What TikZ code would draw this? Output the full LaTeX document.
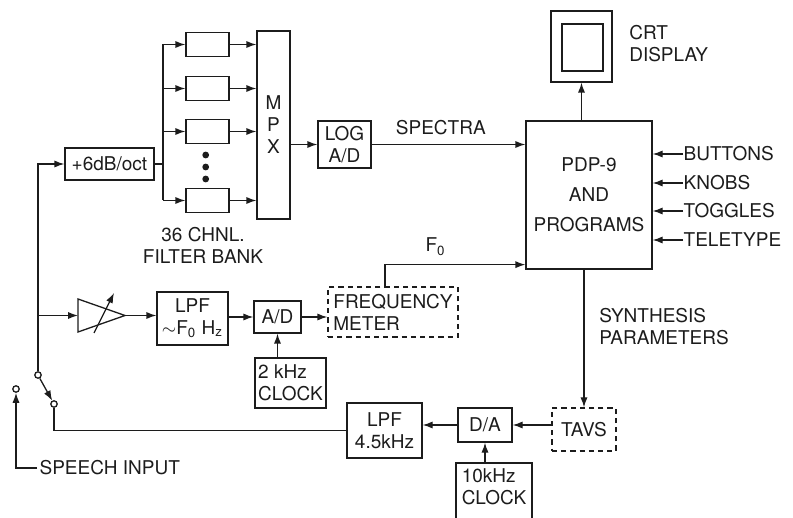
\documentclass[tikz,border=0pt]{standalone}
\usepackage{xcolor}
\usepackage{fontspec}
\setmainfont{TeX Gyre Heros}
\usepackage{tikz}
\usetikzlibrary{arrows.meta,calc,positioning}
\definecolor{PlotInk}{HTML}{1C1C1C}
\tikzset{
  box/.style={draw=PlotInk,align=center,inner sep=1pt},
  dbox/.style={box,dash pattern=on 2.6pt off 2pt},
  arr/.style={-{Latex[length=5pt,width=3.6pt]}},
  term/.style={circle,draw=PlotInk,fill=white,inner sep=0pt,minimum size=3.2pt},
}
\begin{document}
\begin{tikzpicture}[x=0.5pt,y=-0.5pt,line width=0.65pt,PlotInk,font=\fontsize{9.5}{11}\selectfont]
  \useasboundingbox (0,0) rectangle (793,518);
  \clip (0,0) rectangle (793,518);
  \node[box,minimum width=44.5pt,minimum height=16pt] (lift) at (109.5,164) {+6dB/oct};
  \foreach \y/\n in {44.5/1,88.5/2,131.5/3,200.5/4}
    \node[box,minimum width=21.5pt,minimum height=12pt] (f\n) at (207.5,\y) {};
  \foreach \y in {155,167,179}
    \fill (205.7,\y) circle (1.7pt);
  \node[box,minimum width=16.5pt,minimum height=94pt] (mpx) at (273.5,125) {M\\P\\X};
  \node[align=center] (banklabel) at (203,245) {36 CHNL.\\FILTER BANK};
  \node[box,minimum width=26.5pt,minimum height=23.5pt] (logad) at (344.5,144.5) {LOG\\A/D};
  \node[box,minimum width=63pt,minimum height=74pt] (pdp) at (589,195) {PDP-9\\[4pt]AND\\[4pt]PROGRAMS};
  \node[box,minimum width=30.5pt,minimum height=35.5pt] (crt) at (581.5,46.5) {};
  \node[box,minimum width=20.5pt,minimum height=23.5pt] (screen) at (582.5,47.5) {};
  \node[anchor=west,align=left] (crtlabel) at (622,44) {CRT\\DISPLAY};
  \foreach \y/\t/\n in {154/BUTTONS/buttons,183/KNOBS/knobs,211/TOGGLES/toggles,240/TELETYPE/teletype} {
    \node[anchor=west,inner sep=0pt] (\n) at (683,\y) {\t};
    \draw[arr] (\n.west) -- (pdp.east |- \n.west);
  }
  \coordinate (bus) at (163,164);
  \draw (lift.east) -- (bus);
  \draw (f1.west -| bus) -- (f4.west -| bus);
  \foreach \n in {1,...,4} {
    \draw[arr] (f\n.west -| bus) -- (f\n.west);
    \draw[arr] (f\n.east) -- (f\n.east -| mpx.west);
  }
  \draw[arr] (mpx.east |- logad.west) -- (logad.west);
  \draw[arr] (logad.east) -- (logad.east -| pdp.west) node[pos=0.45,above=1pt] (speclabel) {SPECTRA};
  \draw[arr] (pdp.north -| crt.south) -- (crt.south);
  \coordinate (ampin) at (78,315.5);
  \coordinate (ampout) at (125,315.5);
  \draw (78,299) -- (ampout) -- (78,332) -- cycle;
  \draw[arr] (94,333) -- (114,293);
  \node[box,minimum width=35.5pt,minimum height=26.5pt] (lpfa) at (192.5,318.5) {LPF\\$\sim$F\textsubscript{0} H\textsubscript{z}};
  \node[box,minimum width=23.5pt,minimum height=16pt] (adc) at (277.5,317) {A/D};
  \node[dbox,minimum width=65pt,minimum height=25pt,align=left] (fm) at (393,312) {FREQUENCY\\METER};
  \node[box,minimum width=35.5pt,minimum height=25pt,align=left] (clka) at (290.5,383) {2 kHz\\CLOCK};
  \node[dbox,minimum width=32pt,minimum height=21.5pt] (tavs) at (584,429.5) {TAVS};
  \node[box,minimum width=27pt,minimum height=17pt] (dac) at (485,425) {D/A};
  \node[box,minimum width=37.5pt,minimum height=27.5pt] (lpfb) at (384.5,430.5) {LPF\\4.5kHz};
  \node[box,minimum width=38pt,minimum height=35pt,align=left] (clkb) at (494,498) {10kHz\\CLOCK\\~};
  \node[anchor=west,align=left] (synlabel) at (592,327) {SYNTHESIS\\PARAMETERS};
  \node[term] (pivot) at (38,375) {};
  \node[term] (contact) at (54,404) {};
  \node[term] (inlet) at (16,389) {};
  \node[anchor=west,inner xsep=1pt] (speechlabel) at (37,468) {SPEECH INPUT};
  \draw[arr] (pivot.north) |- (lift.west);
  \draw[arr] (pivot.north |- ampin) -- (ampin);
  \draw[arr] (ampout) -- (ampout -| lpfa.west);
  \draw[arr] (lpfa.east |- adc.west) -- (adc.west);
  \draw[arr] (adc.east) -- (adc.east -| fm.west);
  \draw[arr] (clka.north -| adc.south) -- (adc.south);
  \draw[arr] ([xshift=-4pt]fm.north) |- ([yshift=2.5pt]pdp.south west) node[pos=0.68,above=1pt] (f0label) {F\textsubscript{0}};
  \draw[arr] (pdp.south -| tavs.north) -- (tavs.north);
  \draw[arr] (tavs.west |- dac.east) -- (dac.east);
  \draw[arr] (dac.west) -- (dac.west -| lpfb.east);
  \draw[arr] (clkb.north -| dac.south) -- (dac.south);
  \draw (lpfb.west) -| (contact.south);
  \draw[arr] (pivot.-62) -- (contact.118);
  \draw[arr] (speechlabel.west) -| (inlet.south);
\end{tikzpicture}
\end{document}
